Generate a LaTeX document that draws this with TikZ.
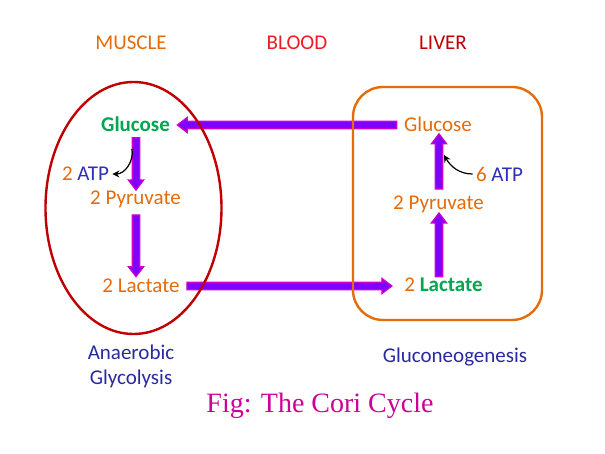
\documentclass[tikz,border=0pt]{standalone}
\usepackage{fontspec}
\setmainfont{Carlito}
\newfontfamily\figfont{Liberation Serif}
\usetikzlibrary{arrows.meta,calc}
\definecolor{corange}{HTML}{E46C0A}
\definecolor{cred}{HTML}{EE1C25}
\definecolor{cdarkred}{HTML}{C00000}
\definecolor{cgreen}{HTML}{00A651}
\definecolor{cblue}{HTML}{2E2EB8}
\definecolor{cnavy}{HTML}{2A2AA0}
\definecolor{arrowfill}{HTML}{7F00FF}
\definecolor{arrowedge}{HTML}{D000C8}
\definecolor{cfig}{HTML}{CC0099}
\tikzset{
  txt/.style={font=\fontsize{10.5}{12.5}\selectfont, inner sep=1.5pt},
  region/.style={txt},
  fatarrow/.style={draw=arrowedge, fill=arrowfill, line width=0.6pt},
  atparrow/.style={-{Stealth[length=3.5pt,width=3.5pt]}, line width=0.6pt}
}
% block arrow from #1 to #2
\newcommand{\fatarrow}[2]{%
  \coordinate (fa-base) at ($(#2)!5pt!(#1)$);
  \filldraw[fatarrow] ($(#1)!1.9pt!90:(#2)$) -- ($(fa-base)!1.9pt!90:(#2)$)
    -- ($(fa-base)!3.8pt!90:(#2)$) -- (#2) -- ($(fa-base)!3.8pt!-90:(#2)$)
    -- ($(fa-base)!1.9pt!-90:(#2)$) -- ($(#1)!1.9pt!-90:(#2)$) -- cycle;}

\begin{document}
\begin{tikzpicture}[x=0.5pt, y=-0.5pt]
    \useasboundingbox[fill=white] (0,0) rectangle (605,454);

    % headings
    \node[region, text=corange] (muscle) at (131,43) {MUSCLE};
    \node[region, text=cred] (blood) at (297,43) {BLOOD};
    \node[region, text=cdarkred] (liver) at (443,43) {LIVER};

    % muscle side
    \node[txt, text=cgreen, font=\fontsize{10.5}{12.5}\selectfont\bfseries] (gm) at (135.5,124) {Glucose};
    \node[txt] (atpm) at (85.5,174) {\textcolor{corange}{2} \textcolor{cblue}{ATP}};
    \node[txt, text=corange] (pm) at (135.5,199) {2 Pyruvate};
    \node[txt, text=corange] (lm) at (141,286) {2 Lactate};

    % liver side
    \node[txt, text=corange] (gl) at (438,124) {Glucose};
    \node[txt] (atpl) at (499.5,174) {\textcolor{corange}{6} \textcolor{cblue}{ATP}};
    \node[txt, text=corange] (pl) at (438.5,204) {2 Pyruvate};
    \node[txt] (ll) at (443.5,285) {\textcolor{corange}{2} \textcolor{cgreen}{\bfseries Lactate}};

    % captions
    \node[txt, text=cnavy, align=center] (glyco) at (131,366) {Anaerobic\\Glycolysis};
    \node[txt, text=cnavy] (neo) at (455,357) {Gluconeogenesis};
    \node[text=cfig, font=\figfont\fontsize{14}{17}\selectfont, inner sep=0pt] (fig) at (320,406) {Fig: The Cori Cycle};

    % end points of the block arrows
    \coordinate (gm-out) at ($(gm.south)+(0.5,3)$);
    \coordinate (pm-in) at ($(pm.north)+(0.5,3)$);
    \coordinate (pm-out) at ($(pm.south)+(0.5,4)$);
    \coordinate (lm-in) at ($(pm-out |- lm.north)+(0,1)$);
    \coordinate (ll-out) at ($(pl.south |- ll.north)+(0.5,2)$);
    \coordinate (pl-in) at ($(pl.south)+(0.5,-3)$);
    \coordinate (pl-out) at ($(pl.north)+(0.5,-3)$);
    \coordinate (gl-in) at ($(gl.south)+(1,-1)$);
    \coordinate (gl-out) at ($(gl.west)+(-4,1)$);
    \coordinate (gm-in) at ($(gm.east)+(4,1)$);
    \coordinate (lm-out) at ($(lm.east)+(4,0)$);
    \coordinate (ll-in) at ($(ll.west)+(-9,1)$);

    \fatarrow{gm-out}{pm-in}
    \fatarrow{pm-out}{lm-in}
    \fatarrow{ll-out}{pl-in}
    \fatarrow{pl-out}{gl-in}
    \fatarrow{gl-out}{gm-in}
    \fatarrow{lm-out}{ll-in}

    % ATP connectors
    \coordinate (atpm-from) at (132,149);
    \coordinate (atpl-to) at (444,155);
    \draw[atparrow] (atpm-from) to[out=-80, in=0] (atpm.east);
    \draw[atparrow] (atpl.west) to[out=180, in=-60] (atpl-to);

    % enclosures
    \draw[cdarkred, line width=1.2pt] (133.5,208) ellipse [x radius=88, y radius=126];
    \draw[corange, line width=1.2pt, rounded corners=15pt] (353,87) rectangle (542,320);
\end{tikzpicture}
\end{document}
